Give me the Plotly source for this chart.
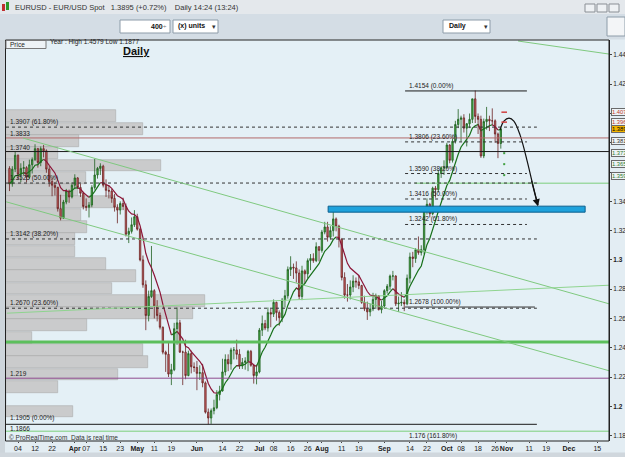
import numpy as np
import pandas as pd
import plotly.graph_objects as go

# ---------------- data ----------------
dates = pd.bdate_range("2010-03-01", "2010-10-28")

opens = [
    # Mar
    1.3625,1.3520,1.3620,1.3715,1.3585,1.3625,1.3630,1.3565,1.3650,1.3685,1.3760,1.3665,1.3760,1.3745,1.3620,1.3535,1.3510,1.3495,1.3350,1.3285,1.3395,1.3470,1.3430,
    # Apr
    1.3510,1.3560,1.3495,1.3455,1.3365,1.3360,1.3375,1.3495,1.3580,1.3625,1.3640,1.3510,1.3475,1.3470,1.3420,1.3360,1.3340,1.3385,1.3365,1.3175,1.3195,1.3240,
    # May
    1.3295,1.3210,1.3000,1.2830,1.2620,1.2750,1.2790,1.2685,1.2620,1.2540,1.2370,1.2355,1.2220,1.2250,1.2530,1.2570,1.2370,1.2370,1.2210,1.2360,1.2270,
    # Jun
    1.2265,1.2225,1.2230,1.2160,1.1960,1.1920,1.1970,1.1990,1.2080,1.2105,1.2235,1.2320,1.2290,1.2385,1.2385,1.2355,1.2275,1.2300,1.2310,1.2375,1.2280,1.2210,
    # Jul
    1.2235,1.2520,1.2565,1.2535,1.2640,1.2630,1.2710,1.2640,1.2605,1.2725,1.2755,1.2935,1.2950,1.2945,1.2910,1.2750,1.2925,1.2905,1.2995,1.3010,1.2995,1.3090,
    # Aug
    1.3065,1.3190,1.3225,1.3155,1.3200,1.3280,1.3230,1.3140,1.2880,1.2760,1.2760,1.2815,1.2855,1.2850,1.2825,1.2710,1.2665,1.2645,1.2665,1.2730,1.2755,1.2660,
    # Sep
    1.2685,1.2790,1.2820,1.2890,1.2890,1.2700,1.2705,1.2710,1.2700,1.2875,1.3020,1.3010,1.3070,1.3050,1.3070,1.3340,1.3380,1.3315,1.3490,1.3480,1.3590,1.3630,
    # Oct
    1.3630,1.3785,1.3680,1.3810,1.3925,1.3960,1.3970,1.3900,1.3930,1.3960,1.4100,1.3980,1.3960,1.3710,1.3945,1.3960,1.3950,1.3950,1.3860,1.3795]

highs = [
    1.3640,1.3640,1.3740,1.3720,1.3660,1.3675,1.3640,1.3685,1.3700,1.3790,1.3765,1.3775,1.3785,1.3755,1.3640,1.3560,1.3530,1.3500,1.3445,1.3410,1.3485,1.3480,1.3530,
    1.3585,1.3565,1.3520,1.3465,1.3420,1.3395,1.3510,1.3690,1.3635,1.3660,1.3650,1.3550,1.3510,1.3485,1.3450,1.3380,1.3400,1.3425,1.3385,1.3220,1.3290,1.3340,
    1.3315,1.3220,1.3030,1.2860,1.2790,1.3095,1.2800,1.2725,1.2640,1.2545,1.2380,1.2440,1.2290,1.2570,1.2675,1.2590,1.2380,1.2455,1.2380,1.2380,1.2300,
    1.2310,1.2280,1.2290,1.2170,1.1985,1.1985,1.2045,1.2110,1.2140,1.2325,1.2355,1.2355,1.2400,1.2405,1.2455,1.2390,1.2330,1.2335,1.2385,1.2385,1.2290,1.2285,
    1.2535,1.2620,1.2590,1.2675,1.2665,1.2730,1.2715,1.2655,1.2740,1.2795,1.2955,1.3025,1.2975,1.2990,1.2935,1.2960,1.2935,1.3010,1.3040,1.3045,1.3120,1.3095,
    1.3205,1.3260,1.3260,1.3230,1.3335,1.3290,1.3240,1.3150,1.2915,1.2835,1.2860,1.2895,1.2880,1.2895,1.2830,1.2755,1.2715,1.2700,1.2775,1.2770,1.2760,1.2720,
    1.2800,1.2835,1.2900,1.2925,1.2895,1.2750,1.2780,1.2730,1.2900,1.3050,1.3055,1.3080,1.3160,1.3100,1.3350,1.3420,1.3390,1.3500,1.3505,1.3615,1.3640,1.3680,
    1.3800,1.3790,1.3830,1.3950,1.4030,1.3985,1.3995,1.3935,1.4000,1.4100,1.4157,1.4000,1.3985,1.3965,1.4045,1.3985,1.4035,1.3960,1.3870,1.3910]

lows = [
    1.3470,1.3500,1.3600,1.3545,1.3530,1.3580,1.3530,1.3555,1.3590,1.3675,1.3630,1.3640,1.3700,1.3595,1.3500,1.3435,1.3440,1.3330,1.3270,1.3280,1.3380,1.3390,1.3420,
    1.3490,1.3485,1.3430,1.3345,1.3335,1.3290,1.3360,1.3480,1.3555,1.3580,1.3495,1.3430,1.3420,1.3390,1.3330,1.3250,1.3310,1.3340,1.3160,1.3115,1.3180,1.3225,
    1.3200,1.2990,1.2810,1.2520,1.2580,1.2740,1.2600,1.2580,1.2525,1.2355,1.2235,1.2200,1.2145,1.2240,1.2420,1.2365,1.2145,1.2185,1.2205,1.2225,1.2235,
    1.2110,1.2180,1.2130,1.1950,1.1877,1.1880,1.1945,1.1980,1.2040,1.2100,1.2210,1.2240,1.2250,1.2320,1.2320,1.2255,1.2255,1.2250,1.2240,1.2270,1.2155,1.2150,
    1.2225,1.2480,1.2520,1.2510,1.2540,1.2610,1.2585,1.2550,1.2575,1.2675,1.2735,1.2890,1.2870,1.2845,1.2730,1.2725,1.2840,1.2875,1.2930,1.2980,1.2985,1.2990,
    1.3050,1.3175,1.3125,1.3140,1.3160,1.3195,1.3085,1.2860,1.2735,1.2715,1.2730,1.2780,1.2810,1.2800,1.2700,1.2650,1.2590,1.2615,1.2650,1.2665,1.2655,1.2635,
    1.2675,1.2770,1.2795,1.2860,1.2685,1.2645,1.2685,1.2650,1.2690,1.2840,1.2950,1.2980,1.3035,1.3030,1.3040,1.3310,1.3290,1.3305,1.3425,1.3460,1.3560,1.3580,
    1.3620,1.3660,1.3665,1.3795,1.3900,1.3810,1.3870,1.3775,1.3900,1.3935,1.3935,1.3860,1.3697,1.3695,1.3890,1.3880,1.3920,1.3800,1.3695,1.3760]

closes = [
    1.3520,1.3620,1.3715,1.3585,1.3625,1.3630,1.3565,1.3650,1.3685,1.3760,1.3665,1.3760,1.3745,1.3620,1.3535,1.3510,1.3495,1.3350,1.3285,1.3395,1.3470,1.3430,1.3510,
    1.3560,1.3495,1.3455,1.3365,1.3360,1.3375,1.3495,1.3580,1.3625,1.3640,1.3510,1.3475,1.3470,1.3420,1.3360,1.3340,1.3385,1.3365,1.3175,1.3195,1.3240,1.3295,
    1.3210,1.3000,1.2830,1.2620,1.2750,1.2790,1.2685,1.2620,1.2540,1.2370,1.2355,1.2220,1.2250,1.2530,1.2570,1.2370,1.2370,1.2210,1.2360,1.2270,1.2265,
    1.2225,1.2230,1.2160,1.1960,1.1920,1.1970,1.1990,1.2080,1.2105,1.2235,1.2320,1.2290,1.2385,1.2385,1.2355,1.2275,1.2300,1.2310,1.2375,1.2280,1.2210,1.2235,
    1.2520,1.2565,1.2535,1.2640,1.2630,1.2710,1.2640,1.2605,1.2725,1.2755,1.2935,1.2950,1.2945,1.2910,1.2750,1.2925,1.2905,1.2995,1.3010,1.2995,1.3090,1.3065,
    1.3190,1.3225,1.3155,1.3200,1.3280,1.3230,1.3140,1.2880,1.2760,1.2760,1.2815,1.2855,1.2850,1.2825,1.2710,1.2665,1.2645,1.2665,1.2730,1.2755,1.2660,1.2685,
    1.2790,1.2820,1.2890,1.2890,1.2700,1.2705,1.2710,1.2700,1.2875,1.3020,1.3010,1.3070,1.3050,1.3070,1.3340,1.3380,1.3315,1.3490,1.3480,1.3590,1.3630,1.3630,
    1.3785,1.3680,1.3810,1.3925,1.3960,1.3970,1.3900,1.3930,1.3960,1.4100,1.3980,1.3960,1.3710,1.3945,1.3960,1.3950,1.3950,1.3860,1.3795,1.3895]

# volume-by-price profile (bin centre price, relative volume)
vp_levels = [1.3981,1.3897,1.3813,1.3729,1.3645,1.3561,1.3477,1.3393,1.3309,1.3225,1.3141,1.3057,
             1.2973,1.2889,1.2805,1.2721,1.2637,1.2553,1.2469,1.2385,1.2301,1.2217,1.2133,1.2049,1.1965]
vp_volume = [110,137,73,52,155,80,72,109,75,81,69,69,100,130,106,199,187,81,26,137,142,112,52,0,67]

tick_dates = ["2010-03-04","2010-03-12","2010-03-22","2010-04-01","2010-04-07","2010-04-15","2010-04-23",
              "2010-05-03","2010-05-11","2010-05-19","2010-06-01","2010-06-14","2010-06-22","2010-07-01",
              "2010-07-08","2010-07-16","2010-07-26","2010-08-02","2010-08-11","2010-08-19","2010-09-01",
              "2010-09-14","2010-09-22","2010-10-01","2010-10-08","2010-10-18","2010-10-26","2010-11-01",
              "2010-11-11","2010-11-19","2010-12-01","2010-12-15"]
tick_text = ["04","12","22","<b>Apr</b>","07","15","23","<b>May</b>","11","19","<b>Jun</b>","14","22",
             "<b>Jul</b>","08","16","26","<b>Aug</b>","11","19","<b>Sep</b>","14","22","<b>Oct</b>","08",
             "18","26","<b>Nov</b>","11","19","<b>Dec</b>","15"]
y_ticks = [1.18,1.20,1.22,1.24,1.26,1.28,1.30,1.32,1.34,1.36,1.38,1.40,1.42,1.44]
y_tick_text = ["1.18","<b>1.2</b>","1.22","1.24","1.26","1.28","<b>1.3</b>","1.32","1.34","","","","1.42","1.44"]

# Fibonacci set 1 (2010 low -> 2009 high), left
fib1_levels = [1.3907, 1.3525, 1.3143, 1.2670]
fib1_labels = ["1.3907 (61.80%)", "1.3525 (50.00%)", "1.3142 (38.20%)", "1.2670 (23.60%)"]
fib1_zero = 1.1877
# Fibonacci set 2 (Sep low -> Oct high), right
fib2_levels = [1.3806, 1.3590, 1.3416, 1.3242]
fib2_labels = ["1.3806 (23.60%)", "1.3590 (38.20%)", "1.3416 (50.00%)", "1.3242 (61.80%)"]
fib2_top, fib2_bottom, fib2_ext = 1.4154, 1.2678, 1.1766

# horizontal levels
lvl_red, lvl_black, lvl_green_thick, lvl_purple, lvl_green_low, lvl_green_mid = 1.3833, 1.3740, 1.2440, 1.2192, 1.1830, 1.3524

# drawn trend lines (bar index, price)
upper_channel = [(4.8, 1.3832), (211.1, 1.2700)]
lower_channel = [(-1.2, 1.3397), (211.1, 1.2243)]
rising_line = [(-0.9, 1.2636), (211.1, 1.2827)]
top_line = [(179.1, 1.4495), (211.1, 1.4406)]
zone = (112.2, 202.7, 1.3326, 1.3367)
arrow_x = [172.7, 174.1, 175.9, 177.6, 179.8, 182.2, 184.3, 186.1]
arrow_y = [1.3887, 1.3948, 1.3968, 1.3948, 1.3852, 1.3682, 1.3511, 1.3374]
pivot_x = 174.2
pivot_red = [1.4009, 1.3941]
pivot_green = [1.3729, 1.3654, 1.3579]

right_boxes = [("1.407", 1.4009, "#c0392b", "#eef3f6"), ("1.396", 1.3941, "#c0392b", "#eef3f6"),
               ("1.389", 1.3893, "#000000", "#f2b400"), ("1.381", 1.3811, "#333333", "#eef3f6"),
               ("1.373", 1.3729, "#2e7d32", "#eef3f6"), ("1.365", 1.3654, "#2e7d32", "#eef3f6"),
               ("1.359", 1.3572, "#2e7d32", "#eef3f6")]

# ---------------- figure ----------------
W, H = 625, 457
L, R, T, B = 6, 609, 40, 441
FONT = "Liberation Sans"
NARROW = "Liberation Sans Narrow, Liberation Sans, sans-serif"


def P(x, y):
    return (x - L) / (R - L), (B - y) / (B - T)


x_idx = np.arange(len(dates))
tick_vals = [int(np.busday_count("2010-03-01", d)) for d in tick_dates]

fig = go.Figure()

fig.add_trace(go.Bar(x=vp_volume, y=vp_levels, orientation="h", width=0.0081,
                     marker=dict(color="rgba(200,200,200,0.92)", line=dict(color="#a9a9a9", width=0.6)),
                     xaxis="x", yaxis="y", hoverinfo="skip", showlegend=False))

fig.add_trace(go.Candlestick(x=x_idx, open=opens, high=highs, low=lows, close=closes,
                             xaxis="x2", yaxis="y", whiskerwidth=0,
                             increasing=dict(line=dict(color="#1f5f1f", width=0.8), fillcolor="#45b045"),
                             decreasing=dict(line=dict(color="#6b2222", width=0.8), fillcolor="#d06868"),
                             showlegend=False, hoverinfo="skip"))

ema = pd.Series(closes).ewm(span=9, adjust=False).mean().values
g = np.full(len(ema), np.nan)
r = np.full(len(ema), np.nan)
for i in range(1, len(ema)):
    if ema[i] >= ema[i - 1]:
        g[i - 1] = ema[i - 1]; g[i] = ema[i]
    else:
        r[i - 1] = ema[i - 1]; r[i] = ema[i]
fig.add_trace(go.Scatter(x=x_idx, y=g, mode="lines", line=dict(color="#17701a", width=1.2),
                         xaxis="x2", yaxis="y", showlegend=False, hoverinfo="skip", connectgaps=False))
fig.add_trace(go.Scatter(x=x_idx, y=r, mode="lines", line=dict(color="#8c1538", width=1.2),
                         xaxis="x2", yaxis="y", showlegend=False, hoverinfo="skip", connectgaps=False))

# curved projection arrow
fig.add_trace(go.Scatter(x=arrow_x, y=arrow_y, mode="lines",
                         line=dict(color="#111111", width=1.2, shape="spline"),
                         xaxis="x2", yaxis="y", showlegend=False, hoverinfo="skip"))
# pivot marks
fig.add_trace(go.Scatter(x=[pivot_x] * len(pivot_red), y=pivot_red, mode="markers",
                         marker=dict(symbol="line-ew", size=4, line=dict(color="#d04040", width=1.5)),
                         xaxis="x2", yaxis="y", showlegend=False, hoverinfo="skip"))
fig.add_trace(go.Scatter(x=[pivot_x] * len(pivot_green), y=pivot_green, mode="markers",
                         marker=dict(symbol="square", size=2, color="#40a040"),
                         xaxis="x2", yaxis="y", showlegend=False, hoverinfo="skip"))

shapes = []
ann = []


def hline(y, x0, x1, color, width=1, dash="solid", xref="x2"):
    shapes.append(dict(type="line", xref=xref, yref="y", x0=x0, x1=x1, y0=y, y1=y,
                       line=dict(color=color, width=width, dash=dash)))


XL, XR = -1.225, 211.1
FX0, FX1 = 139.3, 182.2
LEFT_END = 185.7

# full width levels
hline(lvl_red, 0, 1, "#b26a6a", 1, xref="paper")
hline(lvl_black, 0, 1, "#1a1a1a", 1, xref="paper")
hline(lvl_green_thick, 0, 1, "#5cbf5c", 3, xref="paper")
hline(lvl_purple, 0, 1, "#8e4b8e", 1, xref="paper")
hline(lvl_green_low, 0, 1, "#7ccf7c", 1, xref="paper")
hline(lvl_green_mid, 142.8, XR, "#7ccf7c", 1)
# fib set 1
for lv in fib1_levels:
    hline(lv, XL, LEFT_END, "#333333", 1, "dot")
hline(fib1_zero, XL, LEFT_END, "#1a1a1a", 1)
# fib set 2
hline(fib2_top, FX0, FX1, "#1a1a1a", 1)
for lv in fib2_levels:
    hline(lv, FX0, FX1, "#333333", 1, "dot")
hline(fib2_bottom, FX0, 185.0, "#333333", 1)

for (a, b), col in [(upper_channel, "#7fc97f"), (lower_channel, "#7fc97f"),
                    (rising_line, "#8fd48f"), (top_line, "#7fc97f")]:
    shapes.append(dict(type="line", xref="x2", yref="y", x0=a[0], y0=a[1], x1=b[0], y1=b[1],
                       line=dict(color=col, width=1)))

shapes.append(dict(type="rect", xref="x2", yref="y", x0=zone[0], x1=zone[1], y0=zone[2], y1=zone[3],
                   fillcolor="#1ea2dc", line=dict(color="#0b5f8c", width=1)))


def prect(x0, y0, x1, y1, fill, line=None, lw=1, layer="below"):
    a0, b0 = P(x0, y0)
    a1, b1 = P(x1, y1)
    shapes.append(dict(type="rect", xref="paper", yref="paper", x0=a0, y0=b0, x1=a1, y1=b1,
                       fillcolor=fill, line=dict(color=line or fill, width=lw if line else 0), layer=layer))


def ptext(x, y, text, size=7, color="#222", anchor="left", family=FONT, **kw):
    a, b = P(x, y)
    ann.append(dict(xref="paper", yref="paper", x=a, y=b, text=text, showarrow=False,
                    xanchor=anchor, yanchor="middle", font=dict(family=family, size=size, color=color), **kw))


# chrome
prect(0, 0, 625, 14, "#e4e8ec")
prect(0, 14, 625, 39.5, "#d4dde5")
prect(0, 39.5, 5, 457, "#cdd5db")
prect(0, 452.5, 625, 457, "#d0d7dd")
prect(5.5, 40, 609, 441, "rgba(0,0,0,0)", "#222222", 1, layer="above")
prect(2, 4, 5, 11, "#c03030")
prect(6, 2, 9, 10, "#2a9a2a")
for bx in (585, 597, 609):
    prect(bx, 4, bx + 10, 12, "#eef1f4", "#8a8f95")
prect(120, 20, 170, 33, "#ffffff", "#8d9ca9")
prect(173, 20, 218, 33, "#ffffff", "#8d9ca9")
prect(443, 20, 490, 33, "#ffffff", "#8d9ca9")
prect(607, 17, 625, 36, "#f3f5f7", "#8d9ca9")
prect(6, 40.5, 46, 48.5, "#eef3f6", "#7a7a7a", layer="above")

ptext(13, 7.5, "EURUSD - EUR/USD Spot   1.3895 (+0.72%)    Daily 14:24 (13:24)", 7.5, "#333")
ptext(165, 26.5, "<b>400</b>", 7, "#111", "right")
ptext(169, 26.5, "÷", 6, "#555", "right")
ptext(176, 26.5, "<b>(x) units</b>", 7, "#111")
ptext(210, 26.5, "▾", 7, "#333")
ptext(447, 26.5, "<b>Daily</b>", 7, "#111")
ptext(482, 26.5, "▾", 7, "#333")
ptext(8, 44.5, "Price", 6.5, "#222")
ptext(48, 42.0, "Year : High 1.4579 Low 1.1877", 6.5, "#222", family=NARROW)
ptext(121, 51.0, "<b><u>Daily</u></b>", 11, "#111")
ptext(7, 437, "© ProRealTime.com  Data is real time", 6.5, "#333")

# level labels (left)
lab_font = dict(family=FONT, size=6.5, color="#222")
for lv, t in list(zip(fib1_levels, fib1_labels)) + [(lvl_red, "1.3833"), (lvl_black, "1.3740"),
                                                     (lvl_purple, "1.219"), (fib1_zero + 0.0008, "1.1905 (0.00%)")]:
    ann.append(dict(xref="paper", yref="y", x=P(8, 0)[0], y=lv, text=t, showarrow=False,
                    xanchor="left", yanchor="bottom", yshift=-1, font=lab_font))
ann.append(dict(xref="paper", yref="y", x=P(8, 0)[0], y=fib1_zero, text="1.1866", showarrow=False,
                xanchor="left", yanchor="top", yshift=1, font=lab_font))
# fib set 2 labels
for lv, t in [(fib2_top, "1.4154 (0.00%)")] + list(zip(fib2_levels, fib2_labels)) + \
             [(fib2_bottom, "1.2678 (100.00%)"), (fib2_ext, "1.176 (161.80%)")]:
    ann.append(dict(xref="x2", yref="y", x=FX0 + 0.6, y=lv, text=t, showarrow=False,
                    xanchor="left", yanchor="bottom", yshift=-1, font=lab_font))

# arrow head
ann.append(dict(xref="x2", yref="y", x=arrow_x[-1], y=arrow_y[-1] - 0.0008, axref="x2", ayref="y",
                ax=arrow_x[-2] - 0.6, ay=arrow_y[-2] + 0.004, showarrow=True, arrowhead=2, arrowsize=1.2,
                arrowwidth=1.2, arrowcolor="#111", text=""))

# right price boxes
for t, yv, col, bg in right_boxes:
    ann.append(dict(xref="paper", yref="y", x=1.0 + 2 / 603, y=yv, text=t, showarrow=False,
                    xanchor="left", yanchor="middle", bgcolor=bg, bordercolor="#6a6a6a", borderwidth=1,
                    borderpad=0, font=dict(family=NARROW, size=5.8, color=col)))

fig.update_layout(
    width=W, height=H, margin=dict(l=L, r=W - R, t=T, b=H - B, pad=0),
    paper_bgcolor="#e3edf3", plot_bgcolor="#e4f0f6",
    showlegend=False, bargap=0,
    font=dict(family=FONT, size=7, color="#222"),
    xaxis=dict(range=[0, R - L], visible=False, fixedrange=True, rangeslider=dict(visible=False)),
    xaxis2=dict(overlaying="x", anchor="y", side="bottom", range=[XL, XR], tickmode="array",
                tickvals=tick_vals, ticktext=tick_text, ticks="outside", ticklen=1, tickcolor="#444",
                tickangle=0,
                tickfont=dict(family=NARROW, size=7, color="#222"), showgrid=False, zeroline=False,
                showline=False, rangeslider=dict(visible=False), automargin=False),
    yaxis=dict(side="right", range=[1.1763, 1.4502], tickmode="array", tickvals=y_ticks,
               ticktext=y_tick_text, ticks="outside", ticklen=2, tickcolor="#444",
               tickfont=dict(family=NARROW, size=6.5, color="#222"), showgrid=False, zeroline=False,
               showline=True, linecolor="#222", automargin=False),
    shapes=shapes, annotations=ann,
)

fig.write_html("out.html")
